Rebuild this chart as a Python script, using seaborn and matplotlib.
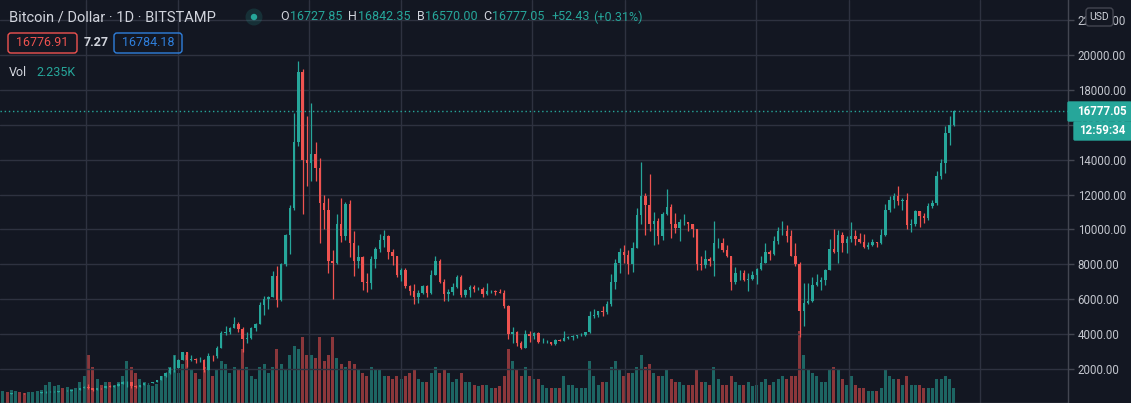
import pandas as pd
import numpy as np
import seaborn as sns
import matplotlib.pyplot as plt
import matplotlib.dates as mdates
from matplotlib.patches import FancyBboxPatch, Circle

# Bitstamp BTC/USD, read off the daily chart and grouped into weekly candles
# (one line per year: 2016 from Aug 15, 2017, 2018, 2019, 2020 to Nov 16)
opens = [
    570, 581, 573, 610, 623, 609, 603, 612, 617, 640, 655, 700, 705, 705, 740, 735, 765, 775, 790, 895,
    995, 905, 820, 920, 915, 1010, 995, 1050, 1150, 1235, 1240, 1020, 970, 1080, 1180, 1180, 1250, 1350, 1570, 1780, 2050, 2080, 2500, 2960, 2500, 2580, 2500, 2520, 1930, 2750, 2730, 3220, 4070, 4100, 4340, 4570, 4300, 3690, 3790, 4370, 4600, 5680, 6000, 6150, 7350, 5950, 8000, 9700, 11200, 15000, 19000, 14000,
    13800, 14300, 13500, 11500, 11100, 8200, 8100, 10300, 9600, 11450, 9200, 8200, 8400, 7000, 6900, 8300, 8900, 9400, 9600, 8700, 8500, 7400, 7700, 6750, 6450, 6150, 6350, 6750, 6350, 7400, 8200, 7000, 6300, 6400, 6700, 7300, 6250, 6500, 6700, 6600, 6600, 6300, 6450, 6450, 6400, 6350, 5600, 4000, 4100, 3500, 3200, 4000, 3900,
    4050, 3550, 3550, 3550, 3450, 3650, 3600, 3800, 3850, 3900, 3950, 3950, 4100, 5050, 5100, 5300, 5250, 5700, 7000, 8100, 8700, 8550, 8000, 8950, 10800, 11900, 11400, 10300, 10500, 9600, 10900, 11300, 10300, 10100, 10400, 10400, 10300, 10000, 8000, 7950, 8300, 8200, 9200, 9200, 8800, 8500, 7000, 7500, 7500, 7100, 7150, 7400,
    7750, 8100, 8700, 8600, 9350, 9900, 9900, 9650, 8500, 8000, 5350, 5800, 5900, 6800, 7000, 7100, 7700, 8900, 8700, 9700, 9200, 9450, 9650, 9450, 9300, 9000, 9100, 9250, 9200, 9700, 11100, 11700, 11900, 11650, 11700, 10250, 10300, 11050, 10750, 10650, 11350, 11500, 13050, 13800, 15500, 16000,
]
highs = [
    592, 590, 612, 630, 628, 612, 615, 620, 645, 660, 720, 745, 740, 752, 745, 772, 780, 795, 935, 1000,
    1150, 915, 930, 925, 1030, 1075, 1060, 1200, 1290, 1300, 1260, 1060, 1100, 1210, 1210, 1260, 1360, 1620, 1800, 2100, 2790, 2560, 2980, 2980, 2780, 2630, 2670, 2550, 2900, 2780, 3300, 4190, 4480, 4380, 4980, 4700, 4390, 4100, 4400, 4620, 5850, 6190, 6200, 7600, 7880, 8100, 9750, 11400, 16700, 19666, 19200, 16500,
    17250, 15000, 14100, 12000, 11800, 8800, 10900, 11800, 11550, 11700, 9900, 9100, 8500, 7500, 8450, 9000, 9750, 9950, 9700, 8880, 8500, 7760, 7780, 6800, 6850, 6550, 6800, 6800, 7700, 8500, 8300, 7150, 6600, 6900, 7400, 7400, 6600, 6800, 6800, 6700, 6700, 6900, 6550, 6500, 6600, 6500, 5650, 4400, 4200, 3600, 4250, 4200, 4100,
    4100, 3800, 3650, 3550, 3700, 3700, 4200, 3900, 3950, 3950, 4080, 4130, 5300, 5450, 5350, 5600, 5900, 7450, 8300, 8950, 9100, 8800, 9300, 11200, 13880, 12100, 13200, 11000, 10650, 11000, 12300, 11450, 10950, 10600, 10900, 10450, 10300, 10050, 8500, 8800, 8400, 10500, 9500, 9500, 9100, 8500, 7850, 7650, 7650, 7500, 7600, 7800,
    8450, 9200, 8800, 9600, 10150, 10500, 10250, 9950, 9200, 8150, 6900, 6950, 7250, 7450, 7300, 7750, 9450, 10000, 9950, 9850, 9600, 10400, 9980, 9800, 9750, 9300, 9450, 9300, 10000, 11450, 11900, 12080, 12480, 11800, 12100, 10600, 11100, 11050, 10950, 11500, 11700, 13350, 14050, 15950, 16500, 16842,
]
lows = [
    565, 565, 568, 600, 603, 593, 598, 605, 612, 628, 650, 680, 695, 685, 725, 728, 755, 770, 788, 890,
    880, 755, 815, 880, 910, 940, 980, 1040, 1145, 980, 930, 890, 940, 1065, 1145, 1170, 1240, 1340, 1550, 1710, 1850, 2080, 2490, 2100, 2450, 2330, 2420, 1840, 1920, 2470, 2650, 3200, 3950, 3980, 4330, 4100, 2970, 3500, 3740, 4150, 4580, 5100, 5420, 6100, 5550, 5900, 7900, 8600, 11100, 14800, 10900, 12500,
    12750, 12800, 9200, 10000, 7500, 6000, 8000, 9300, 9400, 8400, 7350, 7800, 6550, 6400, 6600, 7800, 8700, 9000, 8300, 7950, 7250, 7050, 6650, 6250, 5750, 5800, 6300, 6100, 6300, 7400, 6950, 5900, 5880, 6250, 6650, 6100, 6150, 6150, 6400, 6500, 6100, 6250, 6350, 6250, 6350, 5500, 3700, 3500, 3300, 3150, 3200, 3550, 3700,
    3500, 3480, 3500, 3350, 3380, 3580, 3600, 3700, 3670, 3800, 3900, 3900, 4080, 4900, 5000, 5050, 5180, 5600, 6600, 7500, 8100, 7450, 7550, 8950, 10300, 9700, 9900, 9100, 9150, 9400, 10800, 9500, 9800, 9350, 10250, 9900, 9550, 7700, 7700, 7800, 7900, 7350, 8950, 8700, 8400, 6500, 6850, 7100, 7050, 6450, 7100, 6850,
    7650, 8100, 8250, 8550, 9150, 9700, 9300, 8450, 7900, 3850, 4450, 5700, 5850, 6750, 6550, 6800, 7650, 8650, 8100, 8700, 8650, 9300, 9100, 9200, 8950, 8900, 9050, 9000, 9150, 9650, 11000, 11200, 11400, 11100, 10050, 9850, 10200, 10150, 10350, 10550, 11200, 11400, 12900, 13250, 14850, 15900,
]
closes = [
    581, 573, 610, 623, 609, 603, 612, 617, 640, 655, 700, 705, 705, 740, 735, 765, 775, 790, 895, 995,
    905, 820, 920, 915, 1010, 995, 1050, 1150, 1235, 1240, 1020, 970, 1080, 1180, 1180, 1250, 1350, 1570, 1780, 2050, 2080, 2500, 2960, 2500, 2580, 2500, 2520, 1930, 2750, 2730, 3220, 4070, 4100, 4340, 4570, 4300, 3690, 3790, 4370, 4600, 5680, 6000, 6150, 7350, 5950, 8000, 9700, 11200, 15000, 19000, 14000, 13800,
    14300, 13500, 11500, 11100, 8200, 8100, 10300, 9600, 11450, 9200, 8200, 8400, 7000, 6900, 8300, 8900, 9400, 9600, 8700, 8500, 7400, 7700, 6750, 6450, 6150, 6350, 6750, 6350, 7400, 8200, 7000, 6300, 6400, 6700, 7300, 6250, 6500, 6700, 6600, 6600, 6300, 6450, 6450, 6400, 6350, 5600, 4000, 4100, 3500, 3200, 4000, 3900, 4050,
    3550, 3550, 3550, 3450, 3650, 3600, 3800, 3850, 3900, 3950, 3950, 4100, 5050, 5100, 5300, 5250, 5700, 7000, 8100, 8700, 8550, 8000, 8950, 10800, 11900, 11400, 10300, 10500, 9600, 10900, 11300, 10300, 10100, 10400, 10400, 10300, 10000, 8000, 7950, 8300, 8200, 9200, 9200, 8800, 8500, 7000, 7500, 7500, 7100, 7150, 7400, 7750,
    8100, 8700, 8600, 9350, 9900, 9900, 9650, 8500, 8000, 5350, 5800, 5900, 6800, 7000, 7100, 7700, 8900, 8700, 9700, 9200, 9450, 9650, 9450, 9300, 9000, 9100, 9250, 9200, 9700, 11100, 11700, 11900, 11650, 11700, 10250, 10300, 11050, 10750, 10650, 11350, 11500, 13050, 13800, 15500, 16000, 16777.05,
]
# average daily volume of each week, thousands of BTC
volumes = [
    2.0, 1.8, 2.2, 2.0, 1.8, 1.7, 1.8, 1.9, 2.0, 2.2, 3.0, 3.5, 2.8, 3.0, 2.5, 2.6, 2.4, 2.5, 3.5, 4.5,
    8.0, 6.0, 4.0, 3.0, 3.5, 3.5, 3.0, 3.5, 4.5, 7.0, 6.0, 5.0, 4.0, 3.5, 3.0, 2.8, 3.2, 4.5, 5.0, 6.0, 8.0, 5.0, 6.5, 8.0, 5.5, 5.0, 4.0, 6.0, 7.0, 4.5, 5.5, 7.0, 6.5, 5.0, 6.0, 5.5, 9.0, 6.0, 4.5, 4.0, 6.0, 6.5, 5.0, 6.0, 9.0, 6.5, 5.5, 8.0, 9.5, 9.0, 11.0, 8.0,
    8.0, 7.5, 11.0, 7.0, 8.0, 11.0, 7.5, 6.5, 6.0, 7.0, 6.5, 5.5, 5.0, 4.5, 6.0, 5.5, 5.5, 4.5, 4.5, 4.0, 4.5, 4.0, 4.5, 5.0, 5.5, 4.0, 3.5, 3.5, 5.0, 6.0, 5.0, 5.5, 5.0, 3.5, 4.0, 5.0, 3.5, 3.5, 3.0, 2.8, 3.0, 3.0, 2.5, 2.5, 2.8, 4.5, 9.0, 7.0, 5.5, 4.5, 6.0, 4.5, 4.0,
    4.0, 3.0, 2.5, 2.5, 2.5, 2.5, 4.5, 3.0, 3.0, 2.5, 2.5, 2.5, 7.0, 4.5, 3.0, 3.5, 3.5, 6.0, 7.0, 5.5, 4.5, 5.0, 5.0, 6.0, 8.0, 6.0, 6.5, 5.0, 4.5, 4.5, 5.5, 4.0, 3.5, 3.5, 3.0, 3.0, 3.0, 5.5, 3.5, 3.5, 3.0, 6.0, 4.0, 3.0, 3.0, 4.5, 3.5, 3.0, 3.0, 3.5, 2.8, 3.0,
    3.5, 4.0, 3.0, 3.5, 4.0, 4.5, 4.0, 4.5, 4.5, 12.0, 8.0, 5.5, 5.0, 4.5, 3.5, 3.5, 5.5, 6.0, 5.5, 4.0, 3.0, 4.5, 3.0, 2.5, 2.5, 2.0, 2.0, 2.0, 2.5, 5.5, 4.5, 4.0, 4.0, 3.0, 4.5, 3.0, 3.0, 3.0, 2.5, 2.5, 2.5, 4.0, 4.0, 4.5, 4.0, 2.5,
]
week_start = pd.date_range('2016-08-15', periods=len(closes), freq='7D')

price_ticks = [2000, 4000, 6000, 8000, 10000, 12000, 14000, 16000, 18000, 20000, 22000]
grid_dates = ['2017-01-01', '2017-06-01', '2018-01-01', '2018-06-01', '2019-01-01',
              '2019-06-01', '2020-01-01', '2020-06-01', '2021-01-01']

title = 'Bitcoin / Dollar · 1D · BITSTAMP'
ohlc_labels = ['O', 'H', 'B', 'C']
ohlc_values = ['16727.85', '16842.35', '16570.00', '16777.05']
change = '+52.43'
change_pct = '(+0.31%)'
bid, spread, ask = '16776.91', '7.27', '16784.18'
vol_last = '2.235K'
last_price = 16777.05
countdown = '12:59:34'

BG = '#131722'
GRID = '#2e3240'
UP = '#26a69a'
DOWN = '#ef5350'
TXT = '#d1d4dc'
AXTXT = '#c3c6ce'
BLUE = '#2f7fdc'
W, H = 1131, 403

df = pd.DataFrame({'open': opens, 'high': highs, 'low': lows, 'close': closes, 'volume': volumes})
df['x'] = mdates.date2num(week_start + pd.Timedelta(days=3.5))
df['dir'] = np.where(df['close'] >= df['open'], 'up', 'down')
cols = np.where(df['dir'] == 'up', UP, DOWN)

sns.set_theme(style='dark')
plt.rcParams['font.family'] = ['Roboto', 'DejaVu Sans']

fig = plt.figure(figsize=(W / 100, H / 100), dpi=100, facecolor=BG)
rect = [0, 0, 1068 / W, 1]
axv = fig.add_axes(rect, zorder=0)
ax = fig.add_axes(rect, zorder=1)

xlim = mdates.date2num(pd.to_datetime(['2016-08-14', '2021-05-25']))

# volume pane
sns.barplot(data=df, x='x', y='volume', hue='dir', palette={'up': UP, 'down': DOWN},
            native_scale=True, dodge=False, legend=False, errorbar=None, saturation=1,
            alpha=0.55, linewidth=0, width=0.7, ax=axv)
axv.set_xlim(xlim)
axv.set_ylim(0, 67)
axv.axis('off')

# candles
ax.set_facecolor('none')
ax.vlines(df['x'], df['low'], df['high'], colors=cols, linewidth=0.9, zorder=3)
ax.bar(df['x'], (df['close'] - df['open']).abs(), bottom=df[['open', 'close']].min(axis=1),
       width=4.0, color=cols, linewidth=0, zorder=3)
ax.axhline(last_price, color=UP, lw=1, ls=(0, (1, 2)), zorder=4)

ax.set_xlim(xlim)
ax.set_ylim(50, 23150)
ax.set_xticks(mdates.date2num(pd.to_datetime(grid_dates)))
ax.tick_params(axis='x', length=0, labelbottom=False)
ax.yaxis.tick_right()
ax.set_yticks(price_ticks)
ax.set_yticklabels([f'{t:.2f}' for t in price_ticks])
ax.tick_params(axis='y', direction='out', length=4, width=1, color='#434651',
               labelcolor=AXTXT, labelsize=8.3, pad=3)
ax.grid(True, color=GRID, lw=1)
ax.set_axisbelow(True)
for s in ['top', 'left', 'bottom']:
    ax.spines[s].set_visible(False)
ax.spines['right'].set_color('#434651')
ax.spines['right'].set_linewidth(1)
ax.set_xlabel('')
ax.set_ylabel('')

# bottom pane border
fig.add_artist(plt.Line2D([0, 1068 / W], [0.5 / H, 0.5 / H], color='#50535e', lw=1))


def box(x0, y0, x1, y1, ec, fc, r=2.0, z=5):
    p = FancyBboxPatch((x0 / 100, (H - y1) / 100), (x1 - x0) / 100, (y1 - y0) / 100,
                       boxstyle=f'round,pad=0,rounding_size={r / 100}',
                       transform=fig.dpi_scale_trans, ec=ec, fc=fc, lw=1, zorder=z)
    fig.add_artist(p)


def put(x, y, s, color, size=9, ha='left', weight='normal'):
    fig.text(x / W, 1 - y / H, s, color=color, fontsize=size, ha=ha, va='center',
             fontweight=weight, zorder=6)


# legend rows
put(9, 17, title, TXT, size=10.5)
fig.add_artist(Circle((254 / 100, (H - 17) / 100), 8.5 / 100, transform=fig.dpi_scale_trans,
                      color=UP, alpha=0.18, lw=0, zorder=5))
fig.add_artist(Circle((254 / 100, (H - 17) / 100), 3.2 / 100, transform=fig.dpi_scale_trans,
                      color=UP, lw=0, zorder=5))
for lab, val, xl, xv in zip(ohlc_labels, ohlc_values, [280, 348, 417, 483], [290, 358, 425, 492]):
    put(xl, 17, lab, TXT)
    put(xv, 17, val, UP)
put(551, 17, change, UP)
put(593, 17, change_pct, UP)

box(8, 33, 77, 53, DOWN, 'none', r=3)
put(42.5, 43, bid, DOWN, ha='center')
put(84, 43, spread, TXT, weight='bold')
box(114, 33, 182, 53, BLUE, 'none', r=3)
put(148, 43, ask, BLUE, ha='center')

put(9, 73, 'Vol', TXT)
put(36, 73, vol_last, UP)

# price scale labels
box(1068, 102, 1131, 121, UP, UP, r=1)
put(1077, 111.5, f'{last_price:.2f}', 'white', size=8.3, weight='bold')
box(1074, 122, 1131, 140, UP, UP, r=1)
put(1079, 131, countdown, 'white', size=8.3, weight='bold')
box(1086, 8, 1113, 26, '#434651', BG, r=3)
put(1099.5, 17, 'USD', TXT, size=7.5, ha='center')

fig.savefig('out.png', dpi=100, facecolor=BG)
